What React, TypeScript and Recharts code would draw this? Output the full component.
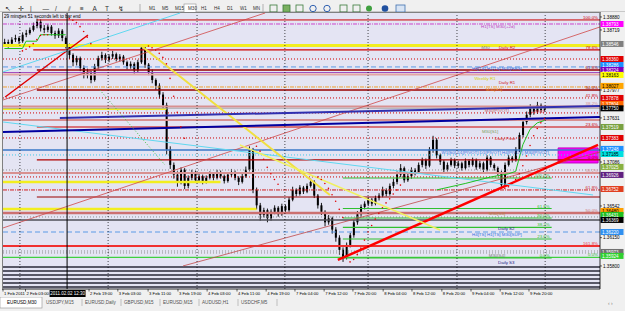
import React from 'react';
import {
  ComposedChart,
  Bar,
  Line,
  XAxis,
  YAxis,
  CartesianGrid,
  ReferenceLine,
  ReferenceArea,
  ReferenceDot,
} from 'recharts';

const FONT = '"Liberation Sans", Arial, sans-serif';

// EURUSD M30, 1-9 Feb 2011 (compressed). candle = [high, low, close], open = previous close
const firstOpen = 1.3854;
const candles: [number, number, number][] = [
  [1.3861, 1.3851, 1.3857], [1.386, 1.385, 1.3855], [1.3863, 1.3853, 1.386], [1.3866, 1.3857, 1.3862],
  [1.3864, 1.3854, 1.3858], [1.3869, 1.3856, 1.3866], [1.3872, 1.3863, 1.3868], [1.3875, 1.3866, 1.3872],
  [1.3881, 1.387, 1.3877], [1.3886, 1.3874, 1.3882], [1.3885, 1.387, 1.3874], [1.3878, 1.3868, 1.3872],
  [1.3879, 1.3869, 1.3876], [1.3878, 1.3865, 1.3868], [1.3871, 1.3861, 1.3865], [1.3874, 1.3862, 1.3871],
  [1.3873, 1.3858, 1.3862], [1.3864, 1.3849, 1.3853], [1.3855, 1.3836, 1.3841], [1.3843, 1.3827, 1.3832],
  [1.384, 1.3828, 1.3837], [1.3839, 1.3821, 1.3825], [1.3828, 1.3812, 1.3816], [1.3824, 1.3812, 1.382],
  [1.3822, 1.3806, 1.381], [1.383, 1.3808, 1.3827], [1.384, 1.3824, 1.3837], [1.3845, 1.3834, 1.3841],
  [1.3843, 1.3831, 1.3835], [1.3842, 1.3832, 1.3839], [1.3846, 1.3836, 1.3842], [1.3844, 1.3833, 1.3836],
  [1.3842, 1.3833, 1.3839], [1.3841, 1.3829, 1.3832], [1.3834, 1.3823, 1.3827], [1.3833, 1.3824, 1.383],
  [1.3832, 1.3818, 1.3822], [1.3835, 1.382, 1.3832], [1.3854, 1.383, 1.385], [1.3851, 1.3825, 1.3829],
  [1.3831, 1.3816, 1.382], [1.3823, 1.3806, 1.381], [1.3812, 1.3798, 1.3803], [1.3806, 1.3787, 1.3792],
  [1.3795, 1.3774, 1.3779], [1.3782, 1.3718, 1.3724], [1.3728, 1.37, 1.3705], [1.3708, 1.3688, 1.3693],
  [1.3697, 1.3678, 1.3684], [1.3702, 1.3681, 1.3699], [1.3701, 1.3675, 1.3679], [1.3692, 1.3676, 1.3689],
  [1.3699, 1.3686, 1.3696], [1.3698, 1.3683, 1.3686], [1.3694, 1.3683, 1.3691], [1.3693, 1.3681, 1.3684],
  [1.3692, 1.3682, 1.3689], [1.3697, 1.3687, 1.3694], [1.3696, 1.3686, 1.3689], [1.3699, 1.3687, 1.3696],
  [1.3698, 1.3688, 1.3691], [1.3693, 1.3682, 1.3685], [1.3696, 1.3683, 1.3693], [1.37, 1.369, 1.3696],
  [1.3698, 1.3686, 1.3689], [1.3691, 1.368, 1.3684], [1.3694, 1.3682, 1.3691], [1.3703, 1.3689, 1.3699],
  [1.3728, 1.3697, 1.3724], [1.3726, 1.367, 1.3674], [1.3677, 1.365, 1.3655], [1.3658, 1.3636, 1.3643],
  [1.3652, 1.364, 1.3649], [1.3651, 1.3634, 1.3639], [1.365, 1.3636, 1.3647], [1.3655, 1.3644, 1.3652],
  [1.3654, 1.3641, 1.3644], [1.3657, 1.3642, 1.3654], [1.3656, 1.3646, 1.3649], [1.3665, 1.3647, 1.3662],
  [1.3678, 1.366, 1.3674], [1.3676, 1.3666, 1.3669], [1.368, 1.3667, 1.3677], [1.3679, 1.3669, 1.3672],
  [1.3682, 1.367, 1.3679], [1.3688, 1.3677, 1.3684], [1.3686, 1.3664, 1.3667], [1.3669, 1.3651, 1.3655],
  [1.3658, 1.3643, 1.3647], [1.3649, 1.3629, 1.3634], [1.3643, 1.3631, 1.3639], [1.3641, 1.362, 1.3625],
  [1.3628, 1.361, 1.3615], [1.3618, 1.3594, 1.36], [1.3603, 1.3585, 1.359], [1.3609, 1.3588, 1.3606],
  [1.3621, 1.3603, 1.3618], [1.3637, 1.3615, 1.3634], [1.3648, 1.3631, 1.3644], [1.3656, 1.3641, 1.3653],
  [1.366, 1.365, 1.3657], [1.3665, 1.3654, 1.3662], [1.3664, 1.3654, 1.3657], [1.3667, 1.3655, 1.3664],
  [1.367, 1.3661, 1.3667], [1.3678, 1.3665, 1.3674], [1.3676, 1.3666, 1.3669], [1.3682, 1.3667, 1.3679],
  [1.3688, 1.3676, 1.3684], [1.3697, 1.3681, 1.3693], [1.3706, 1.369, 1.3701], [1.3703, 1.3683, 1.3686],
  [1.3694, 1.3684, 1.3691], [1.3702, 1.3688, 1.3699], [1.3701, 1.3692, 1.3696], [1.3708, 1.3694, 1.3705],
  [1.3714, 1.3702, 1.3711], [1.3713, 1.37, 1.3704], [1.3727, 1.3702, 1.3724], [1.3741, 1.372, 1.3736],
  [1.3738, 1.3713, 1.3717], [1.3719, 1.3705, 1.3709], [1.3711, 1.3695, 1.3699], [1.3708, 1.3697, 1.3705],
  [1.3714, 1.3703, 1.3711], [1.3713, 1.3701, 1.3704], [1.371, 1.3701, 1.3707], [1.3709, 1.3698, 1.3701],
  [1.3713, 1.3699, 1.371], [1.3712, 1.3702, 1.3705], [1.3714, 1.3703, 1.3711], [1.3713, 1.3699, 1.3702],
  [1.371, 1.37, 1.3707], [1.3709, 1.3695, 1.3699], [1.3717, 1.3697, 1.3714], [1.3716, 1.3702, 1.3705],
  [1.3707, 1.3698, 1.3701], [1.3703, 1.3692, 1.3696], [1.3698, 1.3676, 1.368], [1.3708, 1.3678, 1.3705],
  [1.3717, 1.3703, 1.3714], [1.3716, 1.3708, 1.3711], [1.3727, 1.3709, 1.3724], [1.3745, 1.3721, 1.3742],
  [1.3762, 1.3739, 1.3758], [1.3771, 1.3755, 1.3767], [1.378, 1.3764, 1.3775], [1.3778, 1.3767, 1.3771],
  [1.3783, 1.3768, 1.3779], [1.3781, 1.377, 1.3773], [1.3778, 1.3771, 1.3775],
];

// parabolic SAR dots [bar, price]
const sarDots: [number, number][] = [
  [5, 1.3846], [6, 1.3848], [7, 1.3851], [8, 1.3855], [9, 1.386], [10, 1.3865], [11, 1.3866], [12, 1.3866],
  [18, 1.3886], [19, 1.3884], [20, 1.3881], [21, 1.3876], [22, 1.387], [23, 1.3863], [24, 1.3855],
  [40, 1.3852], [41, 1.385], [42, 1.3847], [43, 1.3843], [44, 1.3838], [45, 1.383], [46, 1.3812],
  [47, 1.379], [48, 1.377], [49, 1.3752], [50, 1.3738],
  [70, 1.3728], [71, 1.3722], [72, 1.3712], [73, 1.3702], [74, 1.3694], [75, 1.3687], [76, 1.3681],
  [87, 1.369], [88, 1.3687], [89, 1.3682], [90, 1.3676], [91, 1.3668], [92, 1.366], [93, 1.365], [94, 1.364],
  [96, 1.3585], [97, 1.3588], [98, 1.3594], [99, 1.3602], [100, 1.3612], [101, 1.3622], [102, 1.363],
  [103, 1.3638], [104, 1.3645], [105, 1.3652], [106, 1.3658], [107, 1.3663], [108, 1.3669], [109, 1.3674], [110, 1.368],
  [139, 1.3676], [140, 1.3678], [141, 1.3682], [142, 1.3687], [143, 1.3694], [144, 1.3704], [145, 1.3716],
  [146, 1.3729], [147, 1.3741], [148, 1.375], [149, 1.3757], [150, 1.3762],
];

// green trailing line, two stretches [bar, price]
const trailA: [number, number][] = [[0, 1.3849], [5, 1.3849], [6, 1.3858], [9, 1.3858], [10, 1.3866], [17, 1.3866]];
const trailB: [number, number][] = [
  [120, 1.3674], [128, 1.3682], [135, 1.369], [140, 1.3694], [142, 1.3697], [144, 1.373], [146, 1.3749], [148, 1.3757], [150, 1.376],
];

const timeTickBars = [-0.4, 5.85, 23.5, 31.5, 39.9, 48.2, 56.3, 64.6, 72.7, 80.7, 88.8, 96.8, 105.2, 113.2, 121.5, 129.6, 137.7, 145.7];
const timeLabels = [
  '1 Feb 2011', '2 Feb 03:00', '2 Feb 19:00', '3 Feb 03:00', '3 Feb 11:00', '3 Feb 19:00', '4 Feb 03:00',
  '4 Feb 11:00', '4 Feb 19:00', '7 Feb 04:00', '7 Feb 12:00', '7 Feb 20:00', '8 Feb 04:00', '8 Feb 12:00',
  '8 Feb 20:00', '9 Feb 04:00', '9 Feb 12:00', '9 Feb 20:00',
];

const priceTicks = [1.3888, 1.38719, 1.37977, 1.37631, 1.37086, 1.36542, 1.3615, 1.358];
const tagPrices = [
  1.38793, 1.38546, 1.3836, 1.38286, 1.38224, 1.38163, 1.38027, 1.37878, 1.37804, 1.3775, 1.37519, 1.37383,
  1.37248, 1.37185, 1.37025, 1.36926, 1.36752, 1.3648, 1.36431, 1.36369, 1.3622, 1.35973, 1.35924,
];

// horizontal levels (pivots, fibo, S/R)
const levelPrices = [
  1.38843, 1.38793, 1.38527, 1.38472, 1.3836, 1.38262, 1.38224, 1.38193, 1.38169, 1.38014, 1.37977,
  1.37878, 1.37773, 1.37742, 1.37693, 1.37606, 1.37519, 1.37383, 1.37235, 1.37173, 1.37111, 1.36987,
  1.3695, 1.36901, 1.36839, 1.3674, 1.36653, 1.36505, 1.36456, 1.36406, 1.36369, 1.3622, 1.36047,
  1.35985, 1.35961, 1.35905, 1.35787, 1.35738, 1.35689, 1.35639, 1.3559, 1.3554, 1.3775,
];
const levelTags = [
  '100.0%', '', '', '78.6%', '', '', '61.8%', '', '', '', '50.0%', '41.8%', '38.2%', '', '', '', '23.6%', '', '',
  '', '0.0%', '', '38.2%', '', '', '61.8%', '', '', '50.0%', '', '', '', '161.8%', '', '', '0.0%', '', '', '', '', '', '', '',
];

const greenFibPrices = [1.36888, 1.3651, 1.36394, 1.36277, 1.36134, 1.35899];
const greenFibTags = ['100.0%', '61.8%', '50.0%', '38.2%', '23.6%', '0.0%'];

// trend lines [bar1, price1, bar2, price2]
const trendLines: [number, number, number, number][] = [
  [-0.4, 1.3627, 165.4, 1.38756],
  [49.6, 1.358, 165.4, 1.3721],
  [-0.4, 1.37853, 72.4, 1.38929],
  [0.2, 1.3789, 23.2, 1.38657],
  [92.6, 1.35874, 164.9, 1.37297],
  [-0.4, 1.37581, 163.5, 1.36678],
  [-0.4, 1.382, 48.8, 1.38929],
  [37.7, 1.38534, 90.4, 1.36678],
  [65.4, 1.37297, 121, 1.36245],
  [15.4, 1.37631, 165.4, 1.37779],
  [-0.4, 1.37457, 165.4, 1.37643],
  [26.5, 1.37977, 44.6, 1.37049],
];

const dayBars = [4.3, 28.8, 53.5, 77.9, 101, 125.7, 150.2];
const crossBar = 17.4;
const crossTime = '2011.02.02 12:30';
const zoneBox = [153.8, 164.9, 1.37074, 1.3726];

const chartNotes: [number, number, string][] = [
  [137.1, 1.38769, 'H1[TS] M30(+2d)'],
  [133.6, 1.38509, 'M30'],
  [139.6, 1.38509, 'Daily R2'],
  [136.8, 1.38249, 'H4[TS] H1[TS] M30[RES]'],
  [133.5, 1.38125, 'Weekly R1'],
  [139.6, 1.38076, 'Daily R1'],
  [136.0, 1.37989, 'M30[R1]'],
  [136.8, 1.3773, 'M30[PIVOT]'],
  [148.2, 1.37717, '+29:51'],
  [134.9, 1.3747, 'M30[S1]'],
  [139.1, 1.37383, 'Daily Pivot'],
  [136.3, 1.3721, 'W1[S0] D1[PIVOT] D1[PIVOT] H4[PIVOT] M30[PIVOT]'],
  [136.8, 1.36456, 'M30[S3]'],
  [139.4, 1.3627, 'Daily S2'],
  [136.8, 1.36196, 'H4[TS] H1[TS] M30[SUP]'],
  [136.8, 1.35936, 'M30[S4]'],
  [139.4, 1.35849, 'Daily S3'],
];

const tabs = ['EURUSD,M30', 'USDJPY,M15', 'EURUSD,Daily', 'GBPUSD,M15', 'EURUSD,M15', 'AUDUSD,H1', 'USDCHF,M5'];
const timeframes = ['M1', 'M5', 'M15', 'M30', 'H1', 'H4', 'D1', 'W1', 'MN'];

const X_MIN = -0.4;
const X_MAX = 165.43;
const Y_MIN = 1.35515;
const Y_MAX = 1.38929;

const sarMap = new Map(sarDots);
const trailAMap = new Map(trailA);
const trailBMap = new Map(trailB);
const rows = candles.map(([high, low, close], i) => ({
  bar: i,
  open: i === 0 ? firstOpen : candles[i - 1][2],
  high,
  low,
  close,
  range: [low, high],
  sar: sarMap.get(i) ?? null,
  trailA: trailAMap.get(i) ?? null,
  trailB: trailBMap.get(i) ?? null,
}));

// looks: [color, width, dash, fromBar, toBar]
const levelLook: [string, number, string, number, number][] = [
  ['#cc0000', 1, '', 9, X_MAX],
  ['#cc44cc', 1, '4 1 1 1', X_MIN, X_MAX],
  ['#f2ee20', 3, '', X_MIN, X_MAX],
  ['#d00000', 1.2, '', 8, X_MAX],
  ['#d00000', 1, '1 2', X_MIN, X_MAX],
  ['#5a9ae6', 1, '5 3', X_MIN, X_MAX],
  ['#9a0000', 1.5, '', 9, X_MAX],
  ['#a050c0', 1, '', X_MIN, X_MAX],
  ['#e4a4a4', 2, '', X_MIN, X_MAX],
  ['#f0a030', 1, '4 1 1 1', X_MIN, X_MAX],
  ['#9a0000', 1.5, '', 9, X_MAX],
  ['#d00000', 1, '1 2', X_MIN, X_MAX],
  ['#d89090', 2, '', X_MIN, X_MAX],
  ['#f2ee20', 2, '', X_MIN, 45],
  ['#d00000', 1, '1 2', X_MIN, X_MAX],
  ['#d89090', 2, '', X_MIN, X_MAX],
  ['#cc0000', 1.2, '', 9, X_MAX],
  ['#d00000', 1, '1 2', X_MIN, X_MAX],
  ['#3a78c8', 1.5, '', X_MIN, X_MAX],
  ['#40c8e8', 1, '1 2', X_MIN, X_MAX],
  ['#b00000', 1.2, '', 9, X_MAX],
  ['#909090', 1, '1 2', X_MIN, X_MAX],
  ['#d89090', 2, '', X_MIN, X_MAX],
  ['#d00000', 1, '1 2', X_MIN, X_MAX],
  ['#f2ee20', 2.5, '', X_MIN, 60],
  ['#d02020', 1, '4 1 1 1', X_MIN, X_MAX],
  ['#9a0000', 1.2, '', 9, X_MAX],
  ['#f2ee20', 2.5, '', X_MIN, 70],
  ['#cc7070', 2.5, '', X_MIN, X_MAX],
  ['#909090', 1, '1 2', X_MIN, X_MAX],
  ['#505058', 1.5, '', X_MIN, X_MAX],
  ['#5a9ae6', 1, '5 3', X_MIN, X_MAX],
  ['#f03030', 2, '', X_MIN, X_MAX],
  ['#909090', 1, '1 2', X_MIN, X_MAX],
  ['#909090', 1, '1 2', X_MIN, X_MAX],
  ['#40d040', 1.2, '', X_MIN, X_MAX],
  ['#2a2a38', 1.5, '', X_MIN, X_MAX],
  ['#2a2a38', 1.5, '', X_MIN, X_MAX],
  ['#2a2a38', 1.5, '', X_MIN, X_MAX],
  ['#2a2a38', 1.5, '', X_MIN, X_MAX],
  ['#2a2a38', 1.5, '', X_MIN, X_MAX],
  ['#2a2a38', 1.5, '', X_MIN, X_MAX],
  ['#a0a0a0', 0.8, '', X_MIN, X_MAX],
];
const trendLook: [string, number, string][] = [
  ['#d04848', 0.8, ''], ['#c04848', 0.8, ''], ['#d04848', 0.8, ''], ['#e00000', 1.5, ''],
  ['#ff0000', 2.5, ''], ['#60d8f0', 1, ''], ['#60d8f0', 1, ''], ['#f0e040', 2, ''],
  ['#f0f060', 1.5, ''], ['#3030b0', 2, ''], ['#0000a0', 2, ''], ['#40c040', 1, '1 2'],
];
const tagColors = [
  '#ff00ff', '#808080', '#e00000', '#1e90ff', '#8000c0', '#ffff00', '#ffa500', '#e00000', '#ff6a00', '#000000',
  '#78a040', '#e00000', '#1e90ff', '#00e0e0', '#88b040', '#602080', '#e04020', '#ffa000', '#20c020', '#000000',
  '#3090f0', '#707070', '#30d030',
];
const noteColors = [
  '#c040c0', '#808080', '#d02020', '#3070e0', '#d8d000', '#d02020', '#f09020', '#c06060', '#e02020',
  '#80a060', '#d02020', '#3070e0', '#b08040', '#202080', '#3070e0', '#808080', '#202080',
];
const darkTextTags = new Set(['#ffff00', '#00e0e0', '#ffa500', '#ffa000']);

const Candle = (props: any) => {
  const { x, y, width, height, payload } = props;
  if (!payload || height == null) return null;
  const { open, close, high, low } = payload;
  const span = high - low || 1e-9;
  const py = (p: number) => y + ((high - p) / span) * height;
  const cx = x + width / 2;
  const top = py(Math.max(open, close));
  const bot = py(Math.min(open, close));
  return (
    <g>
      <line x1={cx} x2={cx} y1={y} y2={y + height} stroke="#000" strokeWidth={0.9} />
      <rect x={cx - 1} y={top} width={2} height={Math.max(bot - top, 0.8)} fill="#000" />
    </g>
  );
};

const EndTag = (props: any) => {
  const { viewBox, text, color } = props;
  if (!viewBox) return null;
  return (
    <text x={viewBox.x + viewBox.width - 2} y={viewBox.y - 1} textAnchor="end" fontSize={4.4} fill={color} fontFamily={FONT}>
      {text}
    </text>
  );
};

const CrossTag = (props: any) => {
  const { viewBox } = props;
  if (!viewBox) return null;
  const by = viewBox.y + viewBox.height + 1;
  return (
    <g>
      <rect x={viewBox.x - 17.5} y={by} width={36} height={7} fill="#000" />
      <text x={viewBox.x + 0.5} y={by + 5.3} textAnchor="middle" fontSize={4.5} fill="#fff" fontFamily={FONT}>
        {crossTime}
      </text>
    </g>
  );
};

const PriceTick = (props: any) => {
  const { x, y, payload } = props;
  const v = payload.value as number;
  const k = tagPrices.indexOf(v);
  const txt = v.toFixed(5);
  if (k >= 0) {
    const c = tagColors[k];
    return (
      <g>
        <rect x={x + 0.5} y={y - 3} width={23} height={6} fill={c} />
        <text x={x + 2} y={y + 1.8} fontSize={4.6} fill={darkTextTags.has(c) ? '#000' : '#fff'} fontFamily={FONT}>
          {txt}
        </text>
      </g>
    );
  }
  return (
    <g>
      <line x1={x} x2={x + 2} y1={y} y2={y} stroke="#000" strokeWidth={0.6} />
      <text x={x + 3} y={y + 1.8} fontSize={4.6} fill="#000" fontFamily={FONT}>
        {txt}
      </text>
    </g>
  );
};

const TimeTick = (props: any) => {
  const { x, y, payload } = props;
  const k = timeTickBars.indexOf(payload.value);
  if (k < 0) return null;
  return (
    <g>
      <line x1={x} x2={x} y1={y} y2={y + 2.5} stroke="#000" strokeWidth={0.6} />
      <text x={x + 1} y={y + 6} fontSize={4.2} fill="#000" fontFamily={FONT}>
        {timeLabels[k]}
      </text>
    </g>
  );
};

const App: React.FC = () => {
  return (
    <div
      style={{
        position: 'fixed',
        left: 0,
        top: 0,
        width: 625,
        height: 311,
        overflow: 'hidden',
        background: '#f0f0f0',
        fontFamily: FONT,
      }}
    >
      {/* toolbar */}
      <div style={{ position: 'absolute', left: 0, top: 0, width: 625, height: 11, borderBottom: '1px solid #c8c8c8' }}>
        <svg width={625} height={11}>
          {['↖', '✛', '|', '—', '/', '⫽', '≡', 'A', 'T', '↯'].map((g, i) => (
            <text key={g} x={5 + i * 12.5} y={8} fontSize={6.5} fill="#303030" fontFamily={FONT}>
              {g}
            </text>
          ))}
          <line x1={140} x2={140} y1={1} y2={10} stroke="#b0b0b0" />
          <rect x={184} y={1} width={12} height={9} fill="#fff" stroke="#909090" strokeWidth={0.6} />
          {timeframes.map((t, i) => (
            <text key={t} x={149 + i * 13} y={7.3} fontSize={4.6} fill="#303030" fontFamily={FONT}>
              {t}
            </text>
          ))}
          <line x1={263} x2={263} y1={1} y2={10} stroke="#b0b0b0" />
          <rect x={270} y={2} width={7} height={7} fill="none" stroke="#3a7a3a" strokeWidth={0.8} />
          <rect x={283} y={2} width={7} height={7} fill="#7ab060" stroke="#3a7a3a" strokeWidth={0.8} />
          <rect x={296} y={2} width={7} height={7} fill="none" stroke="#3a7a3a" strokeWidth={0.8} />
          <circle cx={313} cy={5.5} r={3.2} fill="none" stroke="#3060b0" strokeWidth={1} />
          <circle cx={327} cy={5.5} r={3.2} fill="none" stroke="#3060b0" strokeWidth={1} />
          <rect x={340} y={2} width={7} height={7} fill="none" stroke="#3a7a3a" strokeWidth={0.8} />
          <rect x={353} y={2} width={7} height={7} fill="none" stroke="#3a7a3a" strokeWidth={0.8} />
          <circle cx={369} cy={5.5} r={3} fill="#40a040" />
          <circle cx={385} cy={5.5} r={3.3} fill="#2050a0" />
          <rect x={396} y={2} width={9} height={7} fill="#d8e4f4" stroke="#4070b0" strokeWidth={0.8} />
        </svg>
      </div>

      {/* chart frame */}
      <div style={{ position: 'absolute', left: 2, top: 12, width: 598, height: 277, borderLeft: '1px solid #808080', borderTop: '1px solid #808080' }} />

      <div style={{ position: 'absolute', left: 0, top: 12 }}>
        <ComposedChart width={625} height={288} data={rows} margin={{ top: 1, right: 0, left: 3, bottom: 0 }}>
          <CartesianGrid fill="#e4e4f3" stroke="none" horizontal={false} vertical={false} />
          <XAxis
            dataKey="bar"
            type="number"
            domain={[X_MIN, X_MAX]}
            allowDataOverflow
            ticks={timeTickBars}
            interval={0}
            tick={<TimeTick />}
            tickLine={false}
            tickSize={0}
            tickMargin={0}
            axisLine={{ stroke: '#000', strokeWidth: 0.8 }}
            height={11}
          />
          <YAxis
            type="number"
            orientation="right"
            domain={[Y_MIN, Y_MAX]}
            allowDataOverflow
            ticks={[...priceTicks, ...tagPrices]}
            interval={0}
            tick={<PriceTick />}
            tickLine={false}
            tickSize={0}
            tickMargin={0}
            axisLine={{ stroke: '#000', strokeWidth: 0.8 }}
            width={25}
          />

          {levelPrices.map((p, i) => {
            const [c, w, d, from, to] = levelLook[i];
            return (
              <ReferenceLine
                key={`lv${i}`}
                segment={[{ x: from, y: p }, { x: to, y: p }]}
                stroke={c}
                strokeWidth={w}
                strokeDasharray={d || undefined}
                ifOverflow="visible"
                label={levelTags[i] ? <EndTag text={levelTags[i]} color={i === 35 ? '#30c030' : c} /> : undefined}
              />
            );
          })}

          {greenFibPrices.map((p, i) => (
            <ReferenceLine
              key={`gf${i}`}
              segment={[{ x: 94, y: p }, { x: 152, y: p }]}
              stroke="#30c030"
              strokeWidth={1.1}
              ifOverflow="visible"
              label={<EndTag text={greenFibTags[i]} color="#30c030" />}
            />
          ))}

          {trendLines.map(([b1, p1, b2, p2], i) => (
            <ReferenceLine
              key={`tl${i}`}
              segment={[{ x: b1, y: p1 }, { x: b2, y: p2 }]}
              stroke={trendLook[i][0]}
              strokeWidth={trendLook[i][1]}
              strokeDasharray={trendLook[i][2] || undefined}
              ifOverflow="visible"
            />
          ))}

          <ReferenceArea
            x1={zoneBox[0]}
            x2={zoneBox[1]}
            y1={zoneBox[2]}
            y2={zoneBox[3]}
            fill="#ff00ff"
            fillOpacity={1}
            stroke="#c000c0"
            ifOverflow="visible"
          />

          {dayBars.map((b) => (
            <ReferenceLine key={`d${b}`} x={b} stroke="#000" strokeWidth={0.7} strokeDasharray="1 2" ifOverflow="visible" />
          ))}

          <Bar dataKey="range" barSize={2} shape={(p: any) => <Candle {...p} />} isAnimationActive={false} />
          <Line dataKey="trailA" stroke="#20c020" strokeWidth={1} dot={false} activeDot={false} connectNulls isAnimationActive={false} />
          <Line dataKey="trailB" stroke="#20c020" strokeWidth={1} dot={false} activeDot={false} connectNulls isAnimationActive={false} />
          <Line
            dataKey="sar"
            stroke="none"
            dot={{ r: 0.8, fill: '#e00000', stroke: 'none' }}
            activeDot={false}
            isAnimationActive={false}
          />

          {chartNotes.map(([b, p, t], i) => (
            <ReferenceDot
              key={`n${i}`}
              x={b}
              y={p}
              r={0}
              ifOverflow="visible"
              shape={(s: any) => (
                <text x={s.cx} y={s.cy + 1.6} textAnchor="middle" fontSize={4.4} fill={noteColors[i]} fontFamily={FONT}>
                  {t}
                </text>
              )}
            />
          ))}

          <ReferenceLine x={crossBar} stroke="#000" strokeWidth={1} ifOverflow="visible" label={<CrossTag />} />
        </ComposedChart>
      </div>

      {/* bar timer */}
      <svg style={{ position: 'absolute', left: 0, top: 12 }} width={120} height={8}>
        <text x={4} y={5.5} fontSize={4.6} fill="#000" fontFamily={FONT}>
          29 minutes 51 seconds left to bar end
        </text>
      </svg>

      {/* symbol tabs */}
      <svg style={{ position: 'absolute', left: 0, top: 297 }} width={625} height={14}>
        <rect x={0} y={0} width={42} height={11} fill="#fff" stroke="#909090" strokeWidth={0.6} />
        {tabs.map((t, i) => (
          <g key={t}>
            <text x={7 + i * 39} y={7} fontSize={4.6} fill={i === 0 ? '#000' : '#505050'} fontFamily={FONT}>
              {t}
            </text>
            {i > 0 && <line x1={44 + i * 39 - 1} x2={44 + i * 39 - 1} y1={2} y2={9} stroke="#a0a0a0" strokeWidth={0.6} />}
          </g>
        ))}
        <text x={608} y={8} fontSize={5} fill="#808080" fontFamily={FONT}>‹ ›</text>
      </svg>
    </div>
  );
};

export default App;
